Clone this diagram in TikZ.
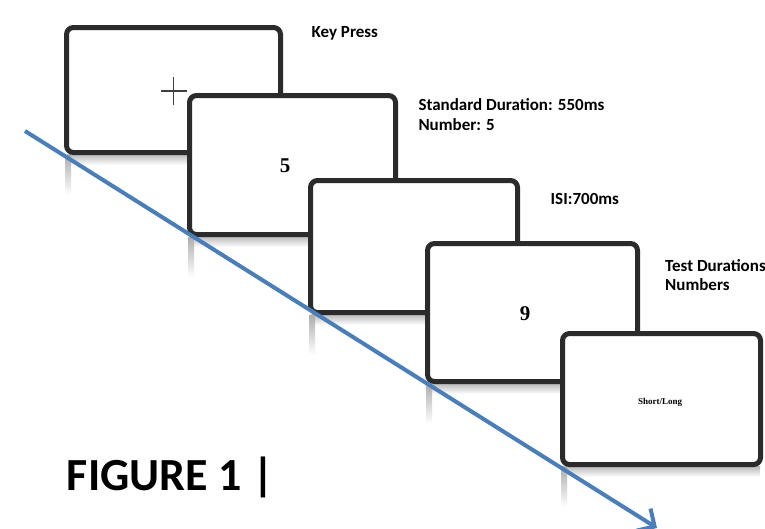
\documentclass[tikz,border=0pt]{standalone}
\usepackage{fontspec}
\setmainfont{Liberation Serif}
\newfontfamily\labelfont{Carlito}
\usetikzlibrary{arrows.meta}
\definecolor{screenedge}{HTML}{2B2B2B}
\definecolor{timeblue}{HTML}{4A7EBB}
\tikzset{
  screen/.style={draw=screenedge, line width=5, rounded corners=7, fill=white,
    inner sep=0, outer sep=0},
  caption/.style={font=\labelfont\bfseries\fontsize{17}{20}\selectfont,
    anchor=base west, inner sep=0, align=left},
  digit/.style={font=\bfseries\fontsize{21}{24}\selectfont, inner sep=0},
  timeline/.style={line width=4, timeblue,
    -{Straight Barb[length=13, width=26]}},
}
% one monitor frame with its faint reflection below: name, left, top, right, bottom
\newcommand\stimscreen[5]{%
  \shade[top color=black!28, bottom color=white] (#2+3,#5-1) rectangle (#4-3,#5+10);
  \shade[top color=black!32, bottom color=white] (#2+1,#5) rectangle (#2+7,#5+40);
  \node[screen, minimum width={#4-#2-5}, minimum height={#5-#3-5}]
    (#1) at ({(#2+#4)/2},{(#3+#5)/2}) {};
}
\begin{document}
\begin{tikzpicture}[x=1pt, y=-1pt]
  \clip (0,0) rectangle (765,528);
  \fill[white] (0,0) rectangle (765,528);

  % fixation screen
  \stimscreen{fix}{64}{25}{283}{155}
  \coordinate (fixc) at (173.5,91);
  \draw[line width=1.3, black!75] ([xshift=-13]fixc) -- ([xshift=13]fixc)
    ([yshift=-14]fixc) -- ([yshift=14]fixc);

  % standard number
  \stimscreen{std}{187}{93}{398}{237}
  \node[digit] (stdnum) at (285,166) {5};

  % blank inter-stimulus interval
  \stimscreen{isi}{308}{178}{520}{315}

  % test number
  \stimscreen{test}{425}{241}{640}{384}
  \node[digit] (testnum) at (525,314) {9};

  % response screen
  \stimscreen{resp}{560}{331}{763}{467}
  \node[font=\bfseries\fontsize{9}{11}\selectfont, inner sep=0] (resptext) at (660,402) {Short/Long};

  % labels
  \node[caption] (lkey) at (311.5,37.5) {Key Press};
  \node[caption] (lstd) at (418.3,110.7) {Standard Duration: 550ms};
  \node[caption] (lnum) at (418.3,130) {Number: 5};
  \node[caption] (lisi) at (550.5,204) {ISI:700ms};
  \node[caption] (ltest) at (665,271.7) {Test Durations};
  \node[caption] (ltnum) at (665,290.7) {Numbers};

  \node[font=\labelfont\bfseries\fontsize{46}{50}\selectfont, anchor=base west, inner sep=0]
    (fig) at (66.7,490) {FIGURE 1 |};

  % time axis
  \coordinate (tstart) at (25,131);
  \coordinate (tend) at (657,528);
  \draw[timeline] (tstart) -- (tend);
\end{tikzpicture}
\end{document}
